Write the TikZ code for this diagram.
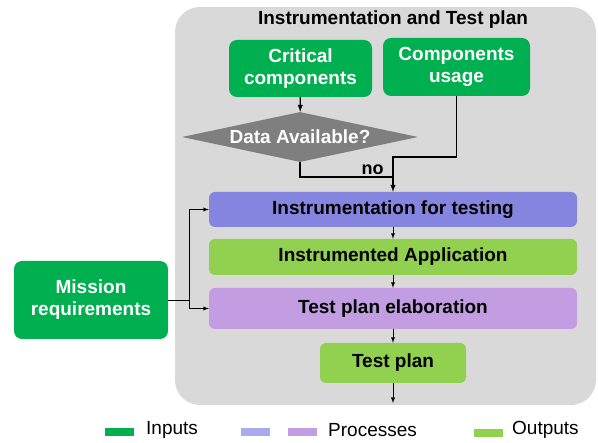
\documentclass[tikz,border=0pt]{standalone}
\usepackage{fontspec}
\setmainfont{Liberation Sans}
\usetikzlibrary{shapes.geometric}
\definecolor{inputgreen}{HTML}{00B050}
\definecolor{outputgreen}{HTML}{92D050}
\definecolor{procblue}{HTML}{8585DF}
\definecolor{proclilac}{HTML}{C39DE1}
\definecolor{legendblue}{HTML}{AAAAEE}
\definecolor{panelgray}{HTML}{D9D9D9}
\definecolor{decisiongray}{HTML}{7F7F7F}

\begin{document}
\begin{tikzpicture}[x=1pt, y=-1pt, >=latex,
    boxtext/.style={font=\fontsize{19}{22}\selectfont\bfseries, align=center, inner sep=0pt},
    inputbox/.style={boxtext, rounded corners=8pt, fill=inputgreen, text=white},
    outputbox/.style={boxtext, rounded corners=6pt, fill=outputgreen},
    procbox/.style={boxtext, rounded corners=6pt, minimum width=368pt},
    decision/.style={boxtext, diamond, fill=decisiongray, text=white, aspect=4.72},
    flow/.style={->, line width=1.4pt},
    thinflow/.style={->, line width=0.9pt},
    swatch/.style={inner sep=0pt, minimum width=29pt, minimum height=8pt},
    legendtext/.style={font=\fontsize{19}{22}\selectfont, anchor=west, inner sep=0pt}]
  \useasboundingbox (0,0) rectangle (598,443);

  % panel
  \fill [panelgray, rounded corners=25pt] (175,7) rectangle (596,405);
  \node [font=\fontsize{19}{22}\selectfont\bfseries] (title) at (393,20) {Instrumentation and Test plan};

  % inputs and decision
  \node [inputbox, minimum width=143pt, minimum height=57pt] (crit) at (300.5,68.5) {Critical\\components};
  \node [inputbox, minimum width=147pt, minimum height=58pt] (usage) at (456.5,67) {Components\\usage};
  \node [decision, minimum width=236pt, minimum height=50pt] (avail) at (300,137) {Data Available?};
  \node [inputbox, minimum width=154pt, minimum height=78pt] (mission) at (91,300) {Mission\\requirements};

  % processes and outputs
  \node [procbox, fill=procblue, minimum height=35pt] (instr) at (393,209.5) {Instrumentation for testing};
  \node [outputbox, minimum width=368pt, minimum height=36pt] (app) at (393,257) {Instrumented Application};
  \node [procbox, fill=proclilac, minimum height=41pt] (elab) at (393,308.5) {Test plan elaboration};
  \node [outputbox, minimum width=146pt, minimum height=40pt] (plan) at (393,363) {Test plan};

  \coordinate (usejoin) at (393,157);
  \coordinate (nojoin) at (393,177);
  \coordinate (split) at (189,300);
  \coordinate (exit) at (393,403);

  \draw [flow] (crit) -- (avail);
  \draw [flow] (usage.south) |- (usejoin) -- (instr.north);
  \draw [line width=1.4pt] (avail.south) |- (nojoin)
    node [pos=0.89, above, font=\fontsize{18}{21}\selectfont\bfseries, inner sep=2pt] (no) {no};

  \draw [thinflow] (instr) -- (app);
  \draw [thinflow] (app) -- (elab);
  \draw [thinflow] (elab) -- (plan);
  \draw [thinflow] (plan) -- (exit);

  \draw [line width=0.9pt] (mission.east) -- (split);
  \draw [thinflow] (split) |- (instr.west);
  \draw [thinflow] (split) |- (elab.west);

  % legend
  \node [swatch, fill=inputgreen] (keyin) at (119,432) {};
  \node [legendtext] (keyintext) at (146,430) {Inputs};
  \node [swatch, fill=legendblue] (keyblue) at (255,432) {};
  \node [swatch, fill=proclilac] (keylilac) at (302,432) {};
  \node [legendtext] (keyproctext) at (328,430) {Processes};
  \node [swatch, fill=outputgreen] (keyout) at (488,433) {};
  \node [legendtext] (keyouttext) at (512,430) {Outputs};
\end{tikzpicture}
\end{document}
